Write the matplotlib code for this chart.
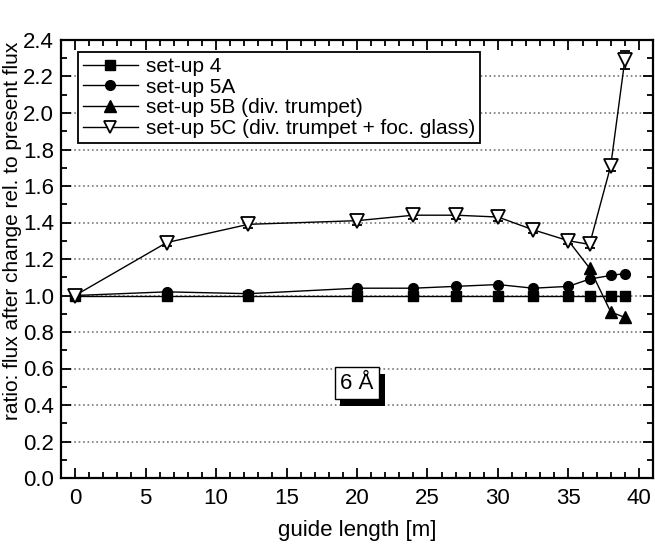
import matplotlib
matplotlib.use("Agg")
import matplotlib.pyplot as plt
from matplotlib.ticker import MultipleLocator
from matplotlib.lines import Line2D
import matplotlib.patheffects as pe

plt.rcParams['font.family'] = ['Liberation Sans', 'DejaVu Sans']

# ---- data ----
x_pos = [0, 6.5, 12.3, 20, 24, 27, 30, 32.5, 35, 36.5, 38, 39]
setup4 = [1.00, 1.00, 1.00, 1.00, 1.00, 1.00, 1.00, 1.00, 1.00, 1.00, 1.00, 1.00]
setup5A = [1.00, 1.02, 1.01, 1.04, 1.04, 1.05, 1.06, 1.04, 1.05, 1.09, 1.11, 1.12]
setup5C = [1.00, 1.29, 1.39, 1.41, 1.44, 1.44, 1.43, 1.36, 1.30, 1.28, 1.71, 2.29]
setup5C_err = [0.0, 0.02, 0.02, 0.025, 0.02, 0.02, 0.02, 0.02, 0.02, 0.02, 0.03, 0.05]
x_5B = [35, 36.5, 38, 39]
setup5B = [1.30, 1.15, 0.91, 0.88]

labels = ["set-up 4", "set-up 5A", "set-up 5B (div. trumpet)",
          "set-up 5C (div. trumpet + foc. glass)"]
xticks = [0, 5, 10, 15, 20, 25, 30, 35, 40]
yticks = [0.0, 0.2, 0.4, 0.6, 0.8, 1.0, 1.2, 1.4, 1.6, 1.8, 2.0, 2.2, 2.4]

fig = plt.figure(figsize=(6.55, 5.48), dpi=100)
ax = fig.add_axes([61/655, 70/548, (653-61)/655, (478-40)/548])

ax.plot(x_pos, setup4, '-s', color='black', ms=7, lw=1, zorder=3)
ax.plot(x_pos, setup5A, '-o', color='black', ms=7, lw=1, zorder=3)
ax.plot(x_5B, setup5B, '-^', color='black', ms=8, lw=1, markevery=[1, 2, 3], zorder=3)
ax.errorbar(x_pos, setup5C, yerr=setup5C_err, fmt='-v', color='black', mfc='white',
            mec='black', mew=1.3, ms=10, lw=1, elinewidth=1, capsize=3.5, zorder=4)

ax.set_xlim(-1, 41)
ax.set_ylim(0, 2.4)
ax.set_xticks(xticks)
ax.set_yticks(yticks)
ax.set_yticklabels([f"{v:.1f}" for v in yticks])
ax.xaxis.set_minor_locator(MultipleLocator(1))
ax.yaxis.set_minor_locator(MultipleLocator(0.1))
ax.tick_params(which='both', direction='in', top=True, right=True, width=1.3)
ax.tick_params(which='major', length=7, labelsize=16)
ax.tick_params(which='minor', length=4)
ax.tick_params(axis='x', pad=7)
ax.tick_params(axis='y', pad=5)
for s in ax.spines.values():
    s.set_linewidth(1.6)

ax.yaxis.grid(True, which='major', linestyle=':', color='#777777', linewidth=1.2)
ax.set_axisbelow(True)

ax.set_xlabel("guide length [m]", fontsize=16, labelpad=8)
ax.set_ylabel("ratio: flux after change rel. to present flux", fontsize=15)
ax.yaxis.set_label_coords(-0.066, 0.565)

handles = [
    Line2D([], [], color='black', marker='s', ms=7, lw=1),
    Line2D([], [], color='black', marker='o', ms=7, lw=1),
    Line2D([], [], color='black', marker='^', ms=8, lw=1),
    Line2D([], [], color='black', marker='v', ms=9, lw=1, mfc='white', mew=1.3),
]
leg = ax.legend(handles, labels, loc='upper left', bbox_to_anchor=(0.029, 0.973),
                borderaxespad=0, fancybox=False, edgecolor='black', framealpha=1,
                fontsize=15, handlelength=2.6, labelspacing=0.08, borderpad=0.25,
                handletextpad=0.4)
leg.get_frame().set_linewidth(1.3)

# 6 Å label with shadowed box
t = ax.text(20, 0.52, "6 Å", fontsize=16, ha='center', va='center', color='black', zorder=6,
            bbox=dict(boxstyle='square,pad=0.25', fc='white', ec='black', lw=1))
t.get_bbox_patch().set_path_effects([
    pe.SimplePatchShadow(offset=(4, -5), shadow_rgbFace='black', alpha=1.0),
    pe.Normal()])

fig.savefig("out.png", dpi=100)
